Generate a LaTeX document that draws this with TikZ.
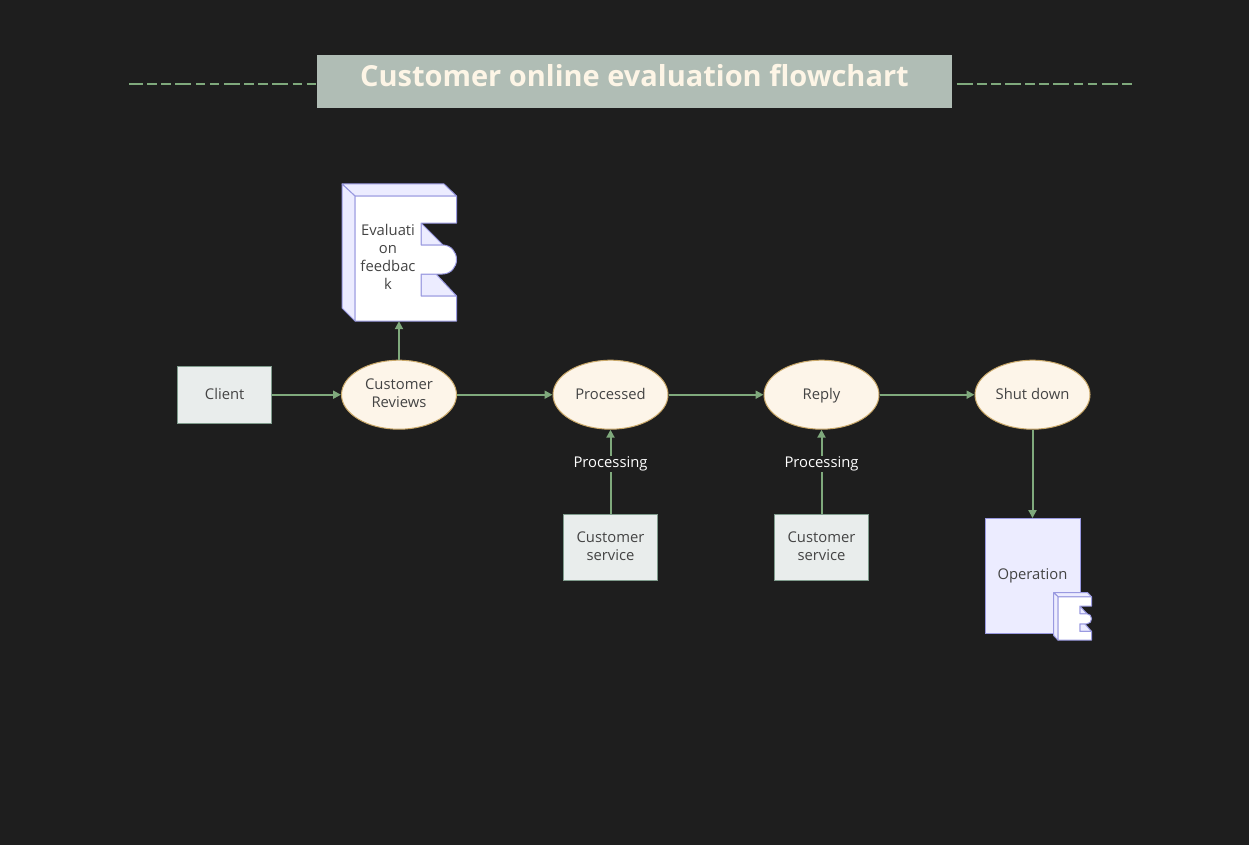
\documentclass[tikz,border=0pt]{standalone}
\usepackage{fontspec}
\setmainfont{Open Sans}
\usetikzlibrary{arrows.meta,shapes.geometric}
\definecolor{bgc}{HTML}{1E1E1E}
\definecolor{linec}{HTML}{7FA97C}
\definecolor{titlec}{HTML}{B0BDB5}
\definecolor{titletext}{HTML}{FDF5E6}
\definecolor{rectfill}{HTML}{E9EDEC}
\definecolor{rectline}{HTML}{7F9B8C}
\definecolor{ellfill}{HTML}{FDF5E9}
\definecolor{ellline}{HTML}{C9A869}
\definecolor{bluefill}{HTML}{ECECFF}
\definecolor{blueline}{HTML}{9999E0}
\definecolor{ink}{HTML}{444444}
\newcommand{\strd}{4.5pt}
\newcommand{\lowstrut}{\rule[-\strd]{0pt}{18pt}}
\tikzset{
  basetext/.style={text=ink,font=\fontsize{14.8}{18}\selectfont,align=center,inner sep=0pt,execute at begin node=\lowstrut,execute at end node=\lowstrut},
  multiline/.code={\def\strd{2.5pt}},
  actor/.style={basetext,draw=rectline,fill=rectfill,line width=1pt,minimum width=94.5pt},
  usecase/.style={basetext,ellipse,draw=ellline,fill=ellfill,line width=1pt,minimum width=115pt,minimum height=69pt},
  flow/.style={draw=linec,line width=2pt,-{Triangle[length=8pt,width=8pt,fill=linec]}},
  dashrule/.style={draw=linec,line width=2.6pt,dash pattern=on 16pt off 4.4pt on 9.6pt off 4.4pt on 9.6pt off 4.4pt},
  procl/.style={text=white,fill=bgc,font=\fontsize{14.8}{18}\selectfont,inner xsep=2pt,inner ysep=1pt},
  compface/.style={draw=blueline,fill=white,line width=1pt,line join=round},
  compside/.style={draw=blueline,fill=bluefill,line width=1pt,line join=round},
  pics/componentshape/.style={code={
    \path[compside] (342,184) -- (444,184) -- (456.5,196) -- (355,196) -- cycle;
    \path[compside] (342,184) -- (355,196) -- (355,321) -- (342,308) -- cycle;
    \path[compside] (421,223) -- (443,245) -- (421,245) -- cycle;
    \path[compside] (421,274) -- (436,274) -- (456.5,296) -- (421,296) -- cycle;
    \path[compface] (355,196) -- (456.5,196) -- (456.5,223) -- (421,223) -- (421,245) -- (442.5,245)
      .. controls (451,245) and (456.5,252) .. (456.5,259.5)
      .. controls (456.5,267) and (451,274) .. (442.5,274)
      -- (421,274) -- (421,296) -- (456.5,296) -- (456.5,321) -- (355,321) -- cycle;
  }}
}
\begin{document}
\begin{tikzpicture}[x=1pt,y=-1pt]
\useasboundingbox (0,0) rectangle (1249,845);
\fill[bgc] (0,0) rectangle (1249,845);

% title
\node[fill=titlec,minimum width=635pt,minimum height=53pt,inner sep=0pt] (titlebox) at (634.5,81.5) {};
\node[text=titletext,font=\bfseries\fontsize{29}{32}\selectfont,inner sep=0pt] (titletext) at (634.5,76) {Customer online evaluation flowchart};
\coordinate (dashL) at (129,84);
\coordinate (dashR) at (1133,84);
\coordinate (dashLe) at (titlebox.west |- dashL);
\coordinate (dashRs) at (956.5,84);
\draw[dashrule,dash phase=2pt] (dashL) -- (dashLe);
\draw[dashrule] (dashRs) -- (dashR);

% component
\pic at (0,0) {componentshape};
\node[inner sep=0pt,minimum width=101.5pt,minimum height=125pt] (evalcomp) at (405.75,258.5) {};
\node[basetext,multiline] (evaltext) at (388,258.5) {Evaluati\\on\\feedbac\\k};

% main row
\node[actor,minimum height=57pt] (client) at (224.7,394.7) {Client};
\node[usecase,multiline] (reviews) at (399,394.7) {Customer\\Reviews};
\node[usecase] (processed) at (610.5,394.7) {Processed};
\node[usecase] (reply) at (821.5,394.7) {Reply};
\node[usecase] (shut) at (1032.5,394.7) {Shut down};

% service
\node[actor,multiline,minimum height=66pt] (svcA) at (610.5,547) {Customer\\service};
\node[actor,multiline,minimum height=66pt] (svcB) at (821.5,547) {Customer\\service};

% operation
\node[basetext,draw=blueline,fill=bluefill,line width=1pt,minimum width=95pt,minimum height=114.5pt] (oper) at (1032.5,575.8) {\raisebox{0.5pt}{Operation}};
\begin{scope}[shift={(1053.7-342*0.3304,592.6-184*0.3467)},xscale=0.3304,yscale=0.3467]
\pic[transform shape] at (0,0) {componentshape};
\end{scope}

% connectors
\draw[flow] (client) -- (reviews);
\draw[flow] (reviews) -- (processed);
\draw[flow] (processed) -- (reply);
\draw[flow] (reply) -- (shut);
\draw[flow] (reviews.north) -- (reviews.north |- evalcomp.south);
\draw[flow] (shut) -- (oper);
\draw[flow] (svcA) -- node[procl,pos=0.59] (procA) {Processing} (processed);
\draw[flow] (svcB) -- node[procl,pos=0.59] (procB) {Processing} (reply);
\end{tikzpicture}
\end{document}
